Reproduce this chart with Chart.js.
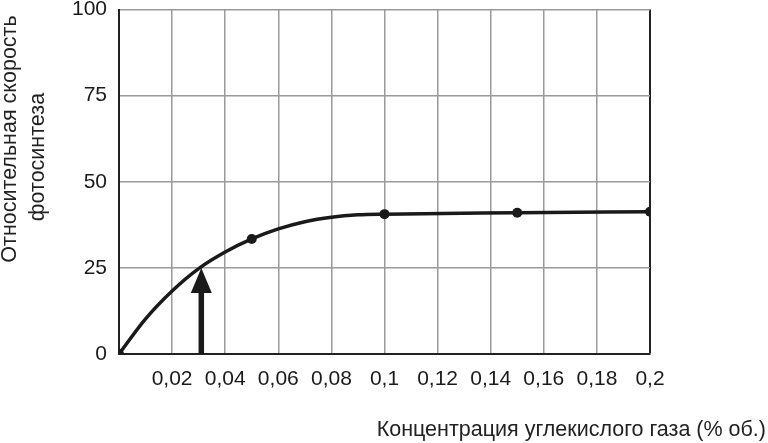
<!DOCTYPE html>
<html>
<head>
<meta charset="utf-8">
<script src="https://cdn.jsdelivr.net/npm/chart.js@4/dist/chart.umd.min.js"></script>
<style>
  html, body { margin: 0; padding: 0; background: #fff; }
  #wrap { width: 768px; height: 443px; }
</style>
</head>
<body>
<div id="wrap"><canvas id="co2Chart" width="768" height="443"></canvas></div>
<script>
// measured points (dots)
var co2Values = [0, 0.05, 0.1, 0.15, 0.2];
var rateValues = [0, 33.4, 40.6, 41, 41.3];
// the smooth curve
var curveX = [0, 0.01, 0.02, 0.03, 0.04, 0.05, 0.06, 0.07, 0.08, 0.09, 0.1, 0.15, 0.2];
var curveY = [0, 10.2, 18.3, 24.8, 29.6, 33.4, 36.3, 38.4, 39.7, 40.4, 40.6, 41, 41.3];
var xTickValues = [0, 0.02, 0.04, 0.06, 0.08, 0.1, 0.12, 0.14, 0.16, 0.18, 0.2];
var yTickValues = [0, 25, 50, 75, 100];
var arrowX = 0.031;
var arrowY = [0, 25];

var xTitle = "Концентрация углекислого газа (% об.)";
var yTitle = ["Относительная скорость", "фотосинтеза"];

var fontFam = "'Liberation Sans', Arial, sans-serif";
var ink = "#1a1a1a";

function toXY(xs, ys) {
  return xs.map(function (v, i) { return { x: v, y: ys[i] }; });
}

// arrow + axis titles
var extras = {
  id: "extras",
  beforeDatasetsDraw: function (chart) {
    var c = chart.ctx;
    var xs = chart.scales.x, ys = chart.scales.y;
    var ax = xs.getPixelForValue(arrowX);
    var y0 = ys.getPixelForValue(arrowY[0]);
    var y1 = ys.getPixelForValue(arrowY[1]);
    var headH = 25, headW = 21;
    c.save();
    c.fillStyle = ink;
    c.fillRect(ax - 2.75, y1 + headH - 1, 5.5, y0 - (y1 + headH) + 1);
    c.beginPath();
    c.moveTo(ax, y1);
    c.lineTo(ax - headW / 2, y1 + headH);
    c.lineTo(ax + headW / 2, y1 + headH);
    c.closePath();
    c.fill();
    c.restore();
  },
  afterDraw: function (chart) {
    var c = chart.ctx;
    c.save();
    c.fillStyle = "#222";
    c.font = "21.5px " + fontFam;
    c.textAlign = "right";
    c.textBaseline = "middle";
    c.fillText(xTitle, 766, 430);
    c.textAlign = "center";
    c.translate(10, 139);
    c.rotate(-Math.PI / 2);
    c.fillText(yTitle[0], 0, 0);
    c.restore();
    c.save();
    c.fillStyle = "#222";
    c.font = "21.5px " + fontFam;
    c.textAlign = "center";
    c.textBaseline = "middle";
    c.translate(38, 157);
    c.rotate(-Math.PI / 2);
    c.fillText(yTitle[1], 0, 0);
    c.restore();
  }
};

new Chart("co2Chart", {
  type: "scatter",
  data: {
    datasets: [{
      data: toXY(curveX, curveY),
      showLine: true,
      cubicInterpolationMode: "monotone",
      borderColor: ink,
      borderWidth: 3.5,
      pointRadius: 0
    }, {
      data: toXY(co2Values, rateValues),
      showLine: false,
      pointRadius: 5,
      pointBackgroundColor: ink,
      pointBorderWidth: 0
    }]
  },
  options: {
    responsive: false,
    animation: false,
    layout: { padding: { top: 9.5, right: 118, left: 0, bottom: 0 } },
    plugins: { legend: { display: false }, tooltip: { enabled: false } },
    scales: {
      x: {
        type: "linear",
        min: 0, max: 0.2,
        afterBuildTicks: function (s) { s.ticks = xTickValues.map(function (v) { return { value: v }; }); },
        afterFit: function (s) { s.height = 89; s.paddingLeft = 0; s.paddingRight = 0; },
        ticks: {
          padding: 13,
          color: ink,
          font: { family: fontFam, size: 21 },
          maxRotation: 0,
          autoSkip: false,
          callback: function (v) { return v === 0 ? "" : String(Number(v.toFixed(2))).replace(".", ","); }
        },
        grid: {
          drawTicks: false,
          color: function (ctx) { return ctx.tick && ctx.tick.value === 0.2 ? "#222" : "#9a9a9a"; },
          lineWidth: function (ctx) { return ctx.tick && ctx.tick.value === 0.2 ? 2 : 1.5; }
        },
        border: { color: "#222", width: 2 }
      },
      y: {
        min: 0, max: 100,
        afterBuildTicks: function (s) { s.ticks = yTickValues.map(function (v) { return { value: v }; }); },
        afterFit: function (s) { s.width = 119; s.paddingTop = 0; s.paddingBottom = 0; },
        ticks: {
          padding: 12,
          color: ink,
          font: { family: fontFam, size: 21 }
        },
        grid: { drawTicks: false, color: "#9a9a9a", lineWidth: 1.5 },
        border: { color: "#222", width: 2 }
      }
    }
  },
  plugins: [extras]
});
</script>
</body>
</html>
